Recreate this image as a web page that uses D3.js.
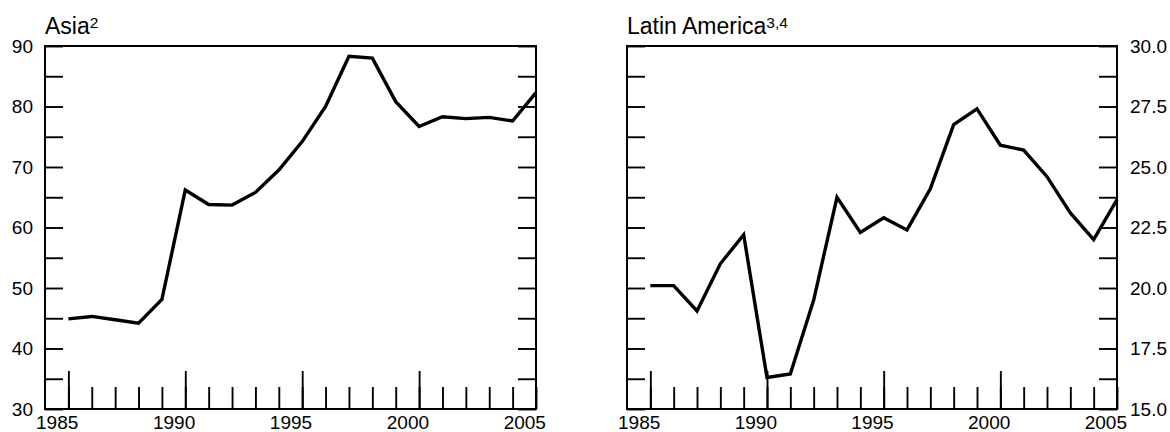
<!DOCTYPE html>
<html>
<head>
<meta charset="utf-8">
<script src="https://cdn.jsdelivr.net/npm/d3@7"></script>
<style>
  body { margin: 0; background: #fff; }
  svg { display: block; font-family: "Liberation Sans", Arial, sans-serif; }
</style>
</head>
<body>
<div id="chart"></div>
<script>

//data
var years = [1985, 1986, 1987, 1988, 1989, 1990, 1991, 1992, 1993, 1994, 1995,
             1996, 1997, 1998, 1999, 2000, 2001, 2002, 2003, 2004, 2005];
var asia = [44.9, 45.3, 44.75, 44.2, 48.1, 66.2, 63.8, 63.7, 65.8, 69.5, 74.2,
            80.0, 88.3, 88.0, 80.8, 76.7, 78.3, 78.0, 78.2, 77.6, 82.3];
var latinAmerica = [20.1, 20.1, 19.05, 21.0, 22.2, 16.3, 16.45, 19.5, 23.75, 22.3, 22.9,
                    22.4, 24.1, 26.75, 27.4, 25.9, 25.7, 24.6, 23.1, 22.0, 23.65];

var yearLabels = [1985, 1990, 1995, 2000, 2005];
var majorYears = [1985, 1990, 1995, 2000];

var asiaTicks = [30, 35, 40, 45, 50, 55, 60, 65, 70, 75, 80, 85, 90];
var asiaLabels = [30, 40, 50, 60, 70, 80, 90];
var latamTicks = [15, 16.25, 17.5, 18.75, 20, 21.25, 22.5, 23.75, 25, 26.25, 27.5, 28.75, 30];
var latamLabels = [15, 17.5, 20, 22.5, 25, 27.5, 30];

var W = 1170, H = 432;
var plotTop = 46, plotBottom = 409;

var svg = d3.select("#chart")
            .append("svg")
            .attr("width", W)
            .attr("height", H);

function drawPanel(p){

  var x = d3.scaleLinear()
            .domain([1984, 2005])
            .range([p.left, p.right]);

  var y = d3.scaleLinear()
            .domain(p.domain)
            .range([plotBottom, plotTop]);

  var step = x(1985) - x(1984);
  var g = svg.append("g");

  //minor x ticks, pointing up from the bottom
  g.append("g")
   .attr("class", "xMinor")
   .attr("transform", "translate(0," + plotBottom + ")")
   .call(d3.axisBottom(x).tickValues(years).tickSizeInner(-22).tickSizeOuter(0).tickFormat(""));

  //longer ticks every five years
  g.append("g")
   .attr("class", "xMajor")
   .attr("transform", "translate(0," + plotBottom + ")")
   .call(d3.axisBottom(x).tickValues(majorYears).tickSizeInner(-38).tickSizeOuter(0).tickFormat(""));

  //year labels sit half a year left of the tick
  var xl = g.append("g")
   .attr("class", "xLabels")
   .attr("transform", "translate(0," + plotBottom + ")")
   .call(d3.axisBottom(x).tickValues(yearLabels).tickSize(0).tickFormat(d3.format("d")));
  xl.selectAll("text")
    .attr("x", -step / 2)
    .attr("y", 20)
    .attr("dy", null);

  //y ticks on both sides, pointing inward
  var fmt = p.fmt;
  g.append("g")
   .attr("class", "yLeft")
   .attr("transform", "translate(" + p.left + ",0)")
   .call(d3.axisLeft(y).tickValues(p.ticks).tickSizeInner(-18).tickSizeOuter(0).tickPadding(12)
          .tickFormat(function(d){ return (p.labelSide == "left" && p.labels.indexOf(d) > -1) ? fmt(d) : ""; }));

  g.append("g")
   .attr("class", "yRight")
   .attr("transform", "translate(" + p.right + ",0)")
   .call(d3.axisRight(y).tickValues(p.ticks).tickSizeInner(-18).tickSizeOuter(0).tickPadding(13)
          .tickFormat(function(d){ return (p.labelSide == "right" && p.labels.indexOf(d) > -1) ? fmt(d) : ""; }));

  g.selectAll(".domain").remove();
  g.selectAll(".tick line").attr("stroke", "#000").attr("stroke-width", 1.9);
  g.selectAll(".tick text")
   .attr("fill", "#000")
   .attr("font-size", 19)
   .attr("font-family", "Liberation Sans, Arial, sans-serif");

  //frame
  g.append("rect")
   .attr("x", p.left)
   .attr("y", plotTop)
   .attr("width", p.right - p.left)
   .attr("height", plotBottom - plotTop)
   .attr("fill", "none")
   .attr("stroke", "#000")
   .attr("stroke-width", 2);

  //series
  var line = d3.line()
      .x(function(d, i){ return x(years[i]); })
      .y(function(d){ return y(d); });

  g.append("path")
   .datum(p.values)
   .attr("d", line)
   .attr("fill", "none")
   .attr("stroke", "#000")
   .attr("stroke-width", 3.4)
   .attr("stroke-linejoin", "miter");

  //title with footnote marks
  var t = g.append("text")
   .attr("x", p.left)
   .attr("y", 34)
   .attr("font-size", 23)
   .attr("fill", "#000");
  t.append("tspan").text(p.title);
  t.append("tspan")
   .attr("font-size", 15.5)
   .attr("dy", -6)
   .text(p.note);
}

drawPanel({
  left: 45, right: 536,
  domain: [30, 90],
  ticks: asiaTicks, labels: asiaLabels, labelSide: "left",
  fmt: d3.format("d"),
  values: asia,
  title: "Asia", note: "2"
});

drawPanel({
  left: 627, right: 1117,
  domain: [15, 30],
  ticks: latamTicks, labels: latamLabels, labelSide: "right",
  fmt: d3.format(".1f"),
  values: latinAmerica,
  title: "Latin America", note: "3,4"
});

</script>
</body>
</html>
